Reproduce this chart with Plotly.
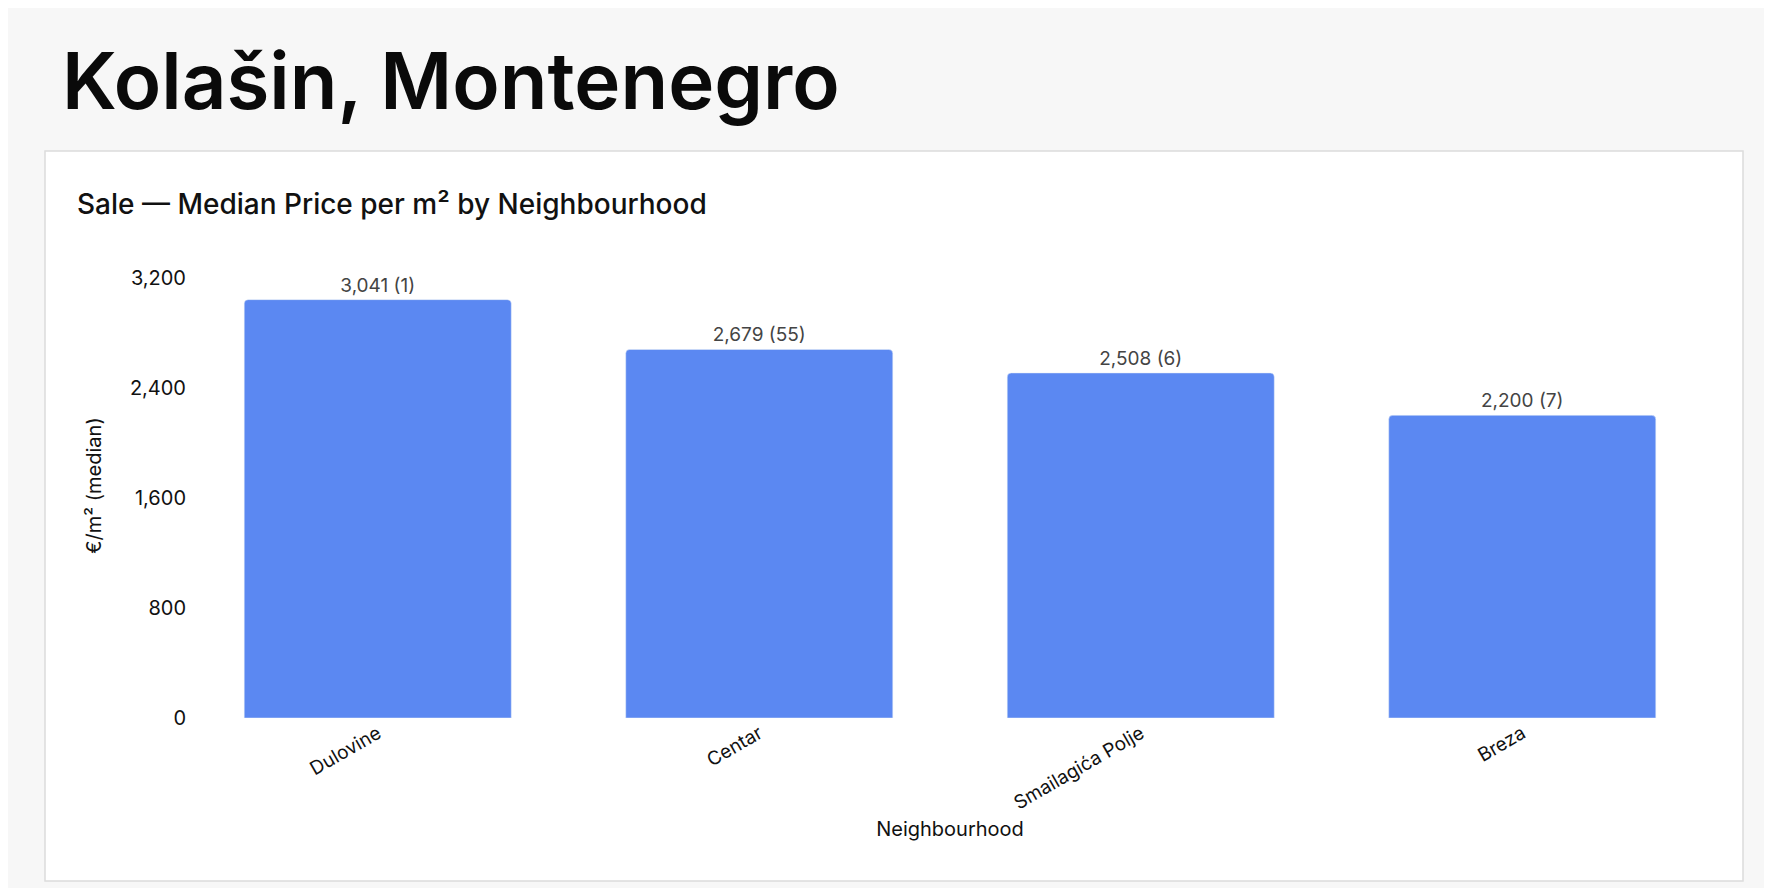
import plotly.graph_objects as go

neighbourhoods = ['Dulovine', 'Centar', 'Smailagića Polje', 'Breza']
median_price = [3041, 2679, 2508, 2200]
listing_count = [1, 55, 6, 7]
tick_vals = [0, 800, 1600, 2400, 3200]

W, H = 1772, 888
labels = [f'{v:,} ({n})' for v, n in zip(median_price, listing_count)]

fig = go.Figure(go.Bar(x=neighbourhoods, y=median_price, text=labels,
                       textposition='outside', cliponaxis=False,
                       textfont=dict(size=19, color='#444'),
                       marker=dict(color='#5b88f2', cornerradius=4)))

fig.update_layout(
    width=W, height=H, paper_bgcolor='#f7f7f7', plot_bgcolor='white',
    font=dict(family='Inter', color='#111'),
    margin=dict(l=179, r=67, t=245, b=178),
    bargap=0.3, showlegend=False,
    xaxis=dict(tickangle=-30, tickfont=dict(size=19),
               title=dict(text='Neighbourhood', font=dict(size=20), standoff=8)),
    yaxis=dict(range=[0, 3380], tickvals=tick_vals, tickformat=',', showgrid=False,
               zeroline=False, tickfont=dict(size=20), ticks='', ticklen=10,
               title=dict(text='€/m² (median)', font=dict(size=20), standoff=22)),
)
# card background
fig.add_shape(type='rect', xref='paper', yref='paper', layer='below',
              x0=(37 - 179) / (W - 246), x1=(1735 - 179) / (W - 246),
              y0=(710 - 873) / (H - 423), y1=(710 - 143) / (H - 423),
              fillcolor='white', line=dict(color='#dcdcdc', width=1.5))
fig.add_annotation(text='Kolašin, Montenegro', xref='paper', yref='paper',
                   x=(52 - 179) / (W - 246), y=(710 - 72) / (H - 423),
                   xanchor='left', yanchor='middle', showarrow=False,
                   font=dict(size=78, family='Inter', color='#0a0a0a', weight=600))
fig.add_annotation(text='Sale — Median Price per m² by Neighbourhood', xref='paper', yref='paper',
                   x=(67 - 179) / (W - 246), y=(710 - 196) / (H - 423),
                   xanchor='left', yanchor='middle', showarrow=False,
                   font=dict(size=28, family='Inter', color='#111', weight=500))

fig.write_html('out.html')
